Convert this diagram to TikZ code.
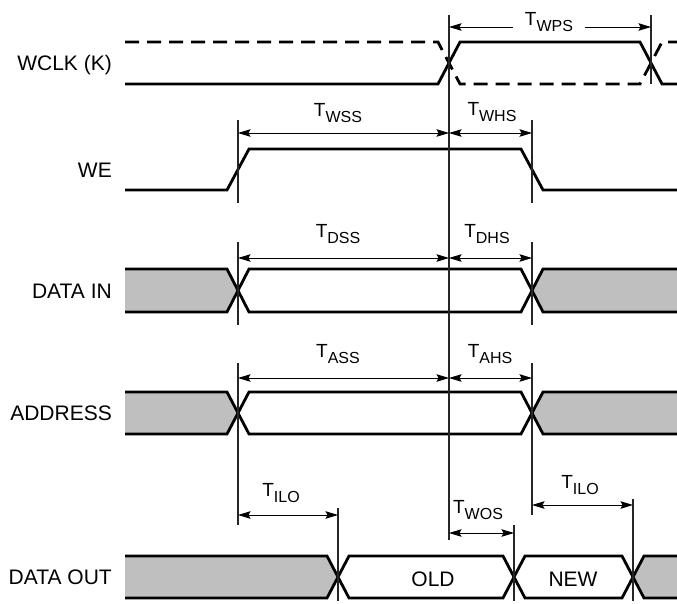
\documentclass[tikz,border=0pt]{standalone}
\usepackage{fontspec}
\setmainfont{Liberation Sans}
\usetikzlibrary{arrows.meta}
\newcommand{\Tsub}[1]{{\fontsize{19}{22}\selectfont T\raisebox{-6pt}{\fontsize{16}{18}\selectfont #1}}}
\begin{document}
\begin{tikzpicture}[x=1pt,y=-1pt,
  sig/.style={line width=2.8pt, line join=miter},
  dsig/.style={sig, dash pattern=on 14pt off 8pt},
  guide/.style={line width=1.1pt, black!85},
  dim/.style={line width=0.9pt, {Stealth[length=12.5pt,width=7.5pt,inset=2pt]}-{Stealth[length=12.5pt,width=7.5pt,inset=2pt]}},
  lbl/.style={font=\fontsize{21}{24}\selectfont, anchor=base east, inner sep=0pt},
  tlbl/.style={anchor=base, inner sep=0pt},
  busfill/.style={fill=black!25, draw=none}]
\useasboundingbox (0,0) rectangle (677,604);

% ---------- signal names ----------
\node[lbl] (nclk) at (112,70.5) {WCLK (K)};
\node[lbl] (nwe)  at (112,178)  {WE};
\node[lbl] (ndin) at (112,298)  {DATA IN};
\node[lbl] (nadr) at (112,420.5){ADDRESS};
\node[lbl] (ndo)  at (112,584.5){DATA OUT};

% ---------- WCLK ----------
\draw[sig]  (125,84) -- (438,84) -- (460,42) -- (640,42) -- (662,84) -- (677,84);
\draw[dsig] (125,42) -- (438,42) -- (460,84) -- (640,84) -- (662,42) -- (677,42);

% ---------- WE ----------
\draw[sig] (125,190) -- (227,190) -- (249,149) -- (521,149) -- (543,190) -- (677,190);

% ---------- DATA IN ----------
\fill[busfill] (125,269) -- (227,269) -- (238,290.5) -- (227,312) -- (125,312) -- cycle;
\fill[busfill] (677,269) -- (543,269) -- (532,290.5) -- (543,312) -- (677,312) -- cycle;
\draw[sig] (125,269) -- (227,269) -- (249,312) -- (521,312) -- (543,269) -- (677,269);
\draw[sig] (125,312) -- (227,312) -- (249,269) -- (521,269) -- (543,312) -- (677,312);

% ---------- ADDRESS ----------
\fill[busfill] (125,392) -- (227,392) -- (238,413) -- (227,434) -- (125,434) -- cycle;
\fill[busfill] (677,392) -- (543,392) -- (532,413) -- (543,434) -- (677,434) -- cycle;
\draw[sig] (125,392) -- (227,392) -- (249,434) -- (521,434) -- (543,392) -- (677,392);
\draw[sig] (125,434) -- (227,434) -- (249,392) -- (521,392) -- (543,434) -- (677,434);

% ---------- DATA OUT ----------
\fill[busfill] (125,556) -- (327,556) -- (338,577) -- (327,598) -- (125,598) -- cycle;
\fill[busfill] (677,556) -- (644,556) -- (633,577) -- (644,598) -- (677,598) -- cycle;
\draw[sig] (125,556) -- (327,556) -- (349,598) -- (503,598) -- (525,556) -- (622,556) -- (644,598) -- (677,598);
\draw[sig] (125,598) -- (327,598) -- (349,556) -- (503,556) -- (525,598) -- (622,598) -- (644,556) -- (677,556);
\node[tlbl, font=\fontsize{21}{24}\selectfont] (old) at (433,586) {OLD};
\node[tlbl, font=\fontsize{21}{24}\selectfont] (new) at (573,586) {NEW};

% ---------- guide lines ----------
\coordinate (k1) at (449,15);   \coordinate (k2) at (449,540);
\coordinate (c1) at (651,15);   \coordinate (c2) at (651,84);
\coordinate (wa1) at (238,120); \coordinate (wa2) at (238,203);
\coordinate (wb1) at (532,120); \coordinate (wb2) at (532,203);
\coordinate (da1) at (238,242); \coordinate (da2) at (238,325);
\coordinate (db1) at (532,242); \coordinate (db2) at (532,325);
\coordinate (aa1) at (238,363); \coordinate (aa2) at (238,525);
\coordinate (ab1) at (532,363); \coordinate (ab2) at (532,515);
\coordinate (o11) at (338,508); \coordinate (o12) at (338,601);
\coordinate (o21) at (514,525); \coordinate (o22) at (514,601);
\coordinate (o31) at (633,499); \coordinate (o32) at (633,601);
\foreach \a/\b in {k1/k2,c1/c2,wa1/wa2,wb1/wb2,da1/da2,db1/db2,aa1/aa2,ab1/ab2,o11/o12,o21/o22,o31/o32}
  \draw[guide] (\a) -- (\b);

% ---------- dimension arrows ----------
\coordinate (wps1) at (449,27);  \coordinate (wps2) at (651,27);
\coordinate (wss1) at (238,133); \coordinate (wss2) at (449,133);
\coordinate (whs2) at (532,133);
\coordinate (dss1) at (238,258); \coordinate (dss2) at (449,258);
\coordinate (dhs2) at (532,258);
\coordinate (ass1) at (238,378); \coordinate (ass2) at (449,378);
\coordinate (ahs2) at (532,378);
\coordinate (ilo1) at (238,515); \coordinate (ilo2) at (338,515);
\coordinate (wos1) at (449,533); \coordinate (wos2) at (514,533);
\coordinate (ilr1) at (532,505); \coordinate (ilr2) at (633,505);

\draw[dim] (wps1) -- (wps2);
\draw[dim] (wss1) -- (wss2);
\draw[dim] (wss2) -- (whs2);
\draw[dim] (dss1) -- (dss2);
\draw[dim] (dss2) -- (dhs2);
\draw[dim] (ass1) -- (ass2);
\draw[dim] (ass2) -- (ahs2);
\draw[dim] (ilo1) -- (ilo2);
\draw[dim] (wos1) -- (wos2);
\draw[dim] (ilr1) -- (ilr2);

% ---------- timing labels ----------
\node[tlbl, fill=white, inner xsep=12pt, inner ysep=3pt] (twps) at (549,25.7) {\Tsub{WPS}};
\node[tlbl] (twss) at (338,117) {\Tsub{WSS}};
\node[tlbl] (twhs) at (492,116) {\Tsub{WHS}};
\node[tlbl] (tdss) at (338,237) {\Tsub{DSS}};
\node[tlbl] (tdhs) at (487,237) {\Tsub{DHS}};
\node[tlbl] (tass) at (338,357) {\Tsub{ASS}};
\node[tlbl] (tahs) at (490,357) {\Tsub{AHS}};
\node[tlbl] (tilo) at (281,496.5) {\Tsub{ILO}};
\node[tlbl] (twos) at (478,513.5) {\Tsub{WOS}};
\node[tlbl] (tilr) at (580,488.5) {\Tsub{ILO}};
\end{tikzpicture}
\end{document}
